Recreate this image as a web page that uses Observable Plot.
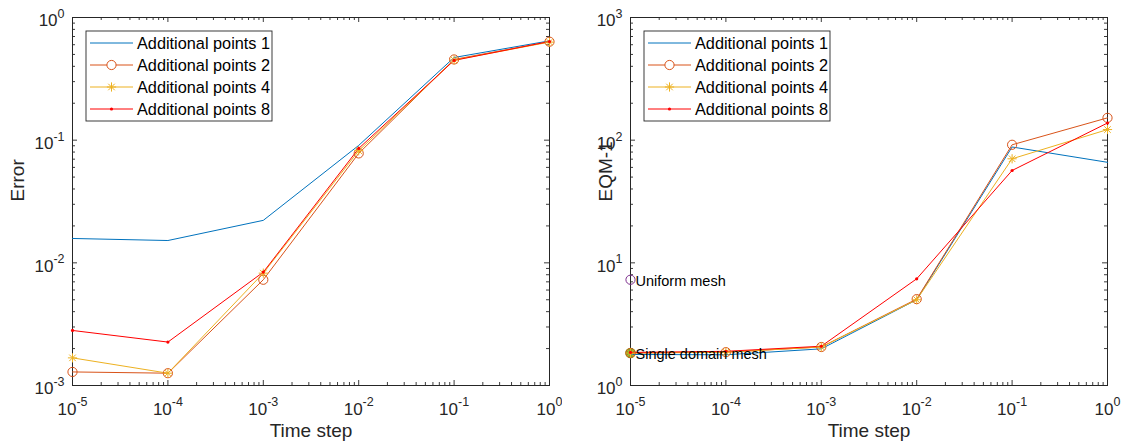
<!DOCTYPE html>
<html><head><meta charset="utf-8">
<script src="https://cdn.jsdelivr.net/npm/d3@7"></script>
<script src="https://cdn.jsdelivr.net/npm/@observablehq/plot@0.6"></script>
<style>
body{margin:0;background:#fff;}
#wrap{display:flex;width:1125px;height:446px;background:#fff;}
</style></head><body><div id="wrap"></div>
<script>
// ---------- data ----------
const timeSteps = [1e-5, 1e-4, 1e-3, 1e-2, 1e-1, 1];
const seriesNames = ["Additional points 1", "Additional points 2", "Additional points 4", "Additional points 8"];

const errorP1 = [0.0158, 0.0152, 0.0222, 0.0906, 0.472, 0.645];
const errorP2 = [0.00129, 0.00126, 0.00728, 0.078, 0.455, 0.635];
const errorP4 = [0.00168, 0.00126, 0.00824, 0.082, 0.45, 0.63];
const errorP8 = [0.00281, 0.00226, 0.0084, 0.0856, 0.447, 0.637];

const eqmP1 = [1.79, 1.78, 1.99, 5.0, 88, 66];
const eqmP2 = [1.84, 1.87, 2.06, 5.06, 91.7, 152];
const eqmP4 = [1.84, 1.87, 2.06, 5.0, 70.5, 122];
const eqmP8 = [1.86, 1.9, 2.09, 7.41, 56.6, 138];

const refLabels = ["Uniform mesh", "Single domain mesh"];
const refX = [1e-5, 1e-5];
const refValues = [7.28, 1.84];

const xTickExponents = [-5, -4, -3, -2, -1, 0];
const errorTickExponents = [-3, -2, -1, 0];
const eqmTickExponents = [0, 1, 2, 3];

const xAxisLabel = "Time step";
const errorAxisLabel = "Error";
const eqmAxisLabel = "EQM-1";

// ---------- styles ----------
const seriesColors = ["#0072BD", "#D95319", "#EDB120", "#FF0000"];
const seriesMarkers = ["none", "circle", "asterisk", "point"];
const refColors = ["#7E2F8E", "#77AC30"];
const axisColor = "#262626";
const FONT = "'Liberation Sans', Arial, Helvetica, sans-serif";

const asterisk8 = {
  draw(ctx, size) {
    const r = Math.sqrt(size / Math.PI);
    for (let k = 0; k < 4; k++) {
      const a = k * Math.PI / 4;
      const c = Math.cos(a) * r, s = Math.sin(a) * r;
      ctx.moveTo(-c, -s); ctx.lineTo(c, s);
    }
  }
};

function longForm(arrays) {
  const rows = [];
  arrays.forEach((vals, i) => vals.forEach((v, j) => rows.push({x: timeSteps[j], y: v, series: seriesNames[i]})));
  return rows;
}

function minorOf(exps) {
  const out = [];
  for (let i = 0; i < exps.length - 1; i++) for (let m = 2; m <= 9; m++) out.push(m * 10 ** exps[i]);
  return out;
}

function markerMarks(rows) {
  const marks = [];
  seriesNames.forEach((name, i) => {
    const d = rows.filter(r => r.series === name);
    const mk = seriesMarkers[i];
    if (mk === "circle") marks.push(Plot.dot(d, {x: "x", y: "y", r: 4.6, stroke: seriesColors[i], strokeWidth: 1, fill: "none"}));
    if (mk === "asterisk") marks.push(Plot.dot(d, {x: "x", y: "y", r: 4.6, symbol: asterisk8, stroke: seriesColors[i], strokeWidth: 1, fill: "none"}));
    if (mk === "point") marks.push(Plot.dot(d, {x: "x", y: "y", r: 1.6, fill: seriesColors[i], stroke: "none"}));
  });
  return marks;
}

function makeChart({width, ml, mr, yExps, arrays, yLabel, yLabelDx, refs}) {
  const height = 446, mt = 17, mb = 61;
  const iw = width - ml - mr, ih = height - mt - mb;
  const xMajor = xTickExponents.map(e => 10 ** e);
  const xMinor = minorOf(xTickExponents);
  const yMajor = yExps.map(e => 10 ** e);
  const yMinor = minorOf(yExps);
  const rows = longForm(arrays);
  const tk = {stroke: axisColor, strokeWidth: 0.9};
  const marks = [
    Plot.tickX(xMajor, {x: d => d, insetTop: ih - 5, ...tk}),
    Plot.tickX(xMajor, {x: d => d, insetBottom: ih - 5, ...tk}),
    Plot.tickX(xMinor, {x: d => d, insetTop: ih - 3, ...tk}),
    Plot.tickX(xMinor, {x: d => d, insetBottom: ih - 3, ...tk}),
    Plot.tickY(yMajor, {y: d => d, insetRight: iw - 5, ...tk}),
    Plot.tickY(yMajor, {y: d => d, insetLeft: iw - 5, ...tk}),
    Plot.tickY(yMinor, {y: d => d, insetRight: iw - 3, ...tk}),
    Plot.tickY(yMinor, {y: d => d, insetLeft: iw - 3, ...tk}),
    Plot.axisX(xMajor, {anchor: "bottom", tickSize: 0, tickPadding: 17, label: null, fontSize: 17,
      tickFormat: d => String(Math.round(Math.log10(d)))}),
    Plot.axisY(yMajor, {anchor: "left", tickSize: 0, tickPadding: 8, label: null, fontSize: 17,
      tickFormat: d => String(Math.round(Math.log10(d)))}),
    Plot.frame({stroke: axisColor, strokeWidth: 1})
  ];
  if (refs) {
    const rd = refLabels.map((l, i) => ({x: refX[i], y: refValues[i], label: l}));
    marks.push(Plot.dot([rd[1]], {x: "x", y: "y", r: 4.6, fill: refColors[1], stroke: refColors[1]}));
    marks.push(Plot.dot([rd[0]], {x: "x", y: "y", r: 4.6, fill: "none", stroke: refColors[0], strokeWidth: 1}));
  }
  marks.push(Plot.line(rows, {x: "x", y: "y", z: "series", stroke: "series", strokeWidth: 1}));
  marks.push(...markerMarks(rows));
  if (refs) {
    const td = refLabels.map((l, i) => ({x: refX[i], y: refValues[i], label: l}));
    marks.push(Plot.text(td, {x: "x", y: "y", text: "label", textAnchor: "start", dx: 5, dy: 1.5, fontSize: 14.5, fill: "#000"}));
  }
  marks.push(Plot.text([xAxisLabel], {frameAnchor: "bottom", dy: 51, fontSize: 19, fill: axisColor}));
  marks.push(Plot.text([yLabel], {frameAnchor: "left", dx: yLabelDx, rotate: -90, fontSize: 19, fill: axisColor}));

  const svg = Plot.plot({
    width, height, marginLeft: ml, marginRight: mr, marginTop: mt, marginBottom: mb,
    style: {fontFamily: FONT, fontSize: "16px", color: axisColor, background: "white", overflow: "visible"},
    x: {type: "log", domain: [1e-5, 1]},
    y: {type: "log", domain: [yMajor[0], yMajor[yMajor.length - 1]]},
    color: {domain: seriesNames, range: seriesColors},
    marks
  });

  // superscript exponents on tick labels
  const sel = d3.select(svg);
  ["x", "y"].forEach(k => {
    sel.selectAll(`g[aria-label="${k}-axis tick label"] text`).each(function () {
      const exp = this.textContent;
      const t = d3.select(this);
      t.text(null);
      t.append("tspan").attr("dy", k === "y" ? 3.5 : 0).text("10");
      t.append("tspan").attr("dy", -8.5).attr("font-size", 12.5).text(exp);
    });
  });

  // legend
  const g = sel.append("g").attr("transform", `translate(${ml + 14},${mt + 14})`)
    .attr("font-family", FONT).attr("font-size", 16.3).attr("text-anchor", "start");
  g.append("rect").attr("width", 186).attr("height", 90).attr("fill", "white")
    .attr("stroke", axisColor).attr("stroke-width", 0.9);
  seriesNames.forEach((name, i) => {
    const y = 12 + i * 22;
    g.append("line").attr("x1", 4).attr("x2", 47).attr("y1", y).attr("y2", y)
      .attr("stroke", seriesColors[i]).attr("stroke-width", 1);
    const mk = seriesMarkers[i];
    if (mk === "circle") g.append("circle").attr("cx", 25.5).attr("cy", y).attr("r", 4.6).attr("fill", "white").attr("stroke", seriesColors[i]);
    if (mk === "asterisk") g.append("path").attr("transform", `translate(25.5,${y})`)
      .attr("d", d3.symbol(asterisk8, Math.PI * 4.6 * 4.6)()).attr("fill", "none").attr("stroke", seriesColors[i]);
    if (mk === "point") g.append("circle").attr("cx", 25.5).attr("cy", y).attr("r", 1.6).attr("fill", seriesColors[i]);
    g.append("text").attr("x", 51).attr("y", y).attr("dy", "0.35em").attr("fill", "#000")
      .attr("text-anchor", "start").text(name);
  });
  return svg;
}

const wrap = document.getElementById("wrap");
wrap.appendChild(makeChart({width: 562, ml: 72, mr: 13, yExps: errorTickExponents,
  arrays: [errorP1, errorP2, errorP4, errorP8], yLabel: errorAxisLabel, yLabelDx: -55}));
wrap.appendChild(makeChart({width: 563, ml: 68, mr: 18, yExps: eqmTickExponents,
  arrays: [eqmP1, eqmP2, eqmP4, eqmP8], yLabel: eqmAxisLabel, yLabelDx: -25, refs: true}));
</script></body></html>
